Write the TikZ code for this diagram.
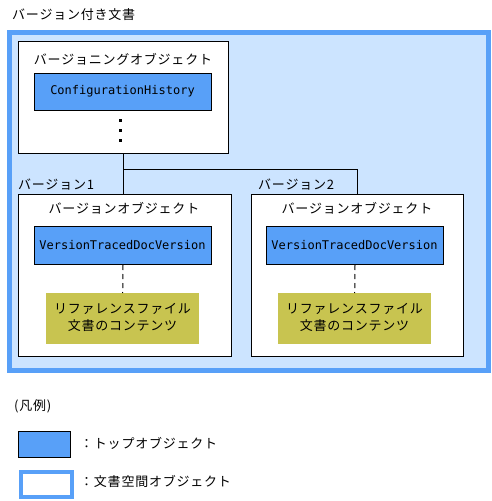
\documentclass[tikz,border=0pt]{standalone}
\usepackage{fontspec}
\setmainfont{Noto Sans CJK JP}[LetterSpace=6]
\newfontfamily\monofont{DejaVu Sans Mono}
\definecolor{topblue}{RGB}{88,160,248}
\definecolor{lightbg}{RGB}{204,228,255}
\definecolor{refyellow}{RGB}{200,196,80}
\begin{document}
\begin{tikzpicture}[x=1pt,y=-1pt,
  every node/.style={font=\fontsize{13}{17}\selectfont, inner sep=0pt},
  docbox/.style={draw=topblue, fill=lightbg, line width=5pt, anchor=north west},
  objbox/.style={draw=black, fill=white, line width=1pt, anchor=north west},
  topbox/.style={draw=black, fill=topblue, line width=1pt, anchor=north west},
  refbox/.style={fill=refyellow, anchor=north west, align=center},
  monotxt/.style={font=\monofont\fontsize{12}{14}\selectfont},
  lbl/.style={anchor=west},
  conn/.style={draw=black, line width=1pt}]
\useasboundingbox (0,0) rectangle (491,501);
\fill[white] (0,0) rectangle (491,501);
% document container
\node[lbl] (doctitle) at (12,15) {バージョン付き文書};
\node[docbox, minimum width=479pt, minimum height=338pt] (doc) at (6.5,29.5) {};
% versioning object
\node[objbox, minimum width=210pt, minimum height=112pt] (vobj) at (18,41) {};
\node (vobjlbl) at (123,59) {バージョニングオブジェクト};
\node[topbox, minimum width=177pt, minimum height=37pt] (ch) at (34,73) {};
\node[monotxt] (chtxt) at (122.5,91.5) {ConfigurationHistory};
\fill (119,119) rectangle (122,122);
\fill (119,129) rectangle (122,132);
\fill (119,139) rectangle (122,142);
% versions
\node[lbl] (v1lbl) at (18,185) {バージョン1};
\node[lbl] (v2lbl) at (258,185) {バージョン2};
\node[objbox, minimum width=213pt, minimum height=162pt] (v1) at (18,194) {};
\node[objbox, minimum width=212pt, minimum height=162pt] (v2) at (251,194) {};
\node (v1title) at (124,208) {バージョンオブジェクト};
\node (v2title) at (357,208) {バージョンオブジェクト};
\node[topbox, minimum width=177pt, minimum height=38pt] (tv1) at (34,226) {};
\node[monotxt] (tv1txt) at (122.5,245) {VersionTracedDocVersion};
\node[topbox, minimum width=177pt, minimum height=38pt] (tv2) at (266,226) {};
\node[monotxt] (tv2txt) at (354.5,245) {VersionTracedDocVersion};
\node[refbox, minimum width=153pt, minimum height=51pt] (ref1) at (46,293) {};
\node[align=center] (ref1txt) at (122.5,317.5) {リファレンスファイル\\文書のコンテンツ};
\node[refbox, minimum width=153pt, minimum height=51pt] (ref2) at (278,293) {};
\node[align=center] (ref2txt) at (354.5,317.5) {リファレンスファイル\\文書のコンテンツ};
% connectors
\coordinate (junc) at (0,169);
\draw[conn] (vobj.south) -- (vobj.south |- v1.north);
\draw[conn] (vobj.south |- junc) -| (v2.north);
\draw[conn, dash pattern=on 5pt off 4pt] (tv1.south) -- (ref1.north);
\draw[conn, dash pattern=on 5pt off 4pt] (tv2.south) -- (ref2.north);
% legend
\node[lbl] (legtitle) at (14,406) {(凡例)};
\node[draw=black, fill=topblue, line width=1pt, anchor=north west, minimum width=52pt, minimum height=26pt] (leg1) at (18,431) {};
\node[lbl] (leg1txt) at (80,443) {：トップオブジェクト};
\node[draw=topblue, fill=white, line width=4pt, anchor=north west, minimum width=51pt, minimum height=25pt] (leg2) at (19,470) {};
\node[lbl] (leg2txt) at (80,481) {：文書空間オブジェクト};
\end{tikzpicture}
\end{document}
